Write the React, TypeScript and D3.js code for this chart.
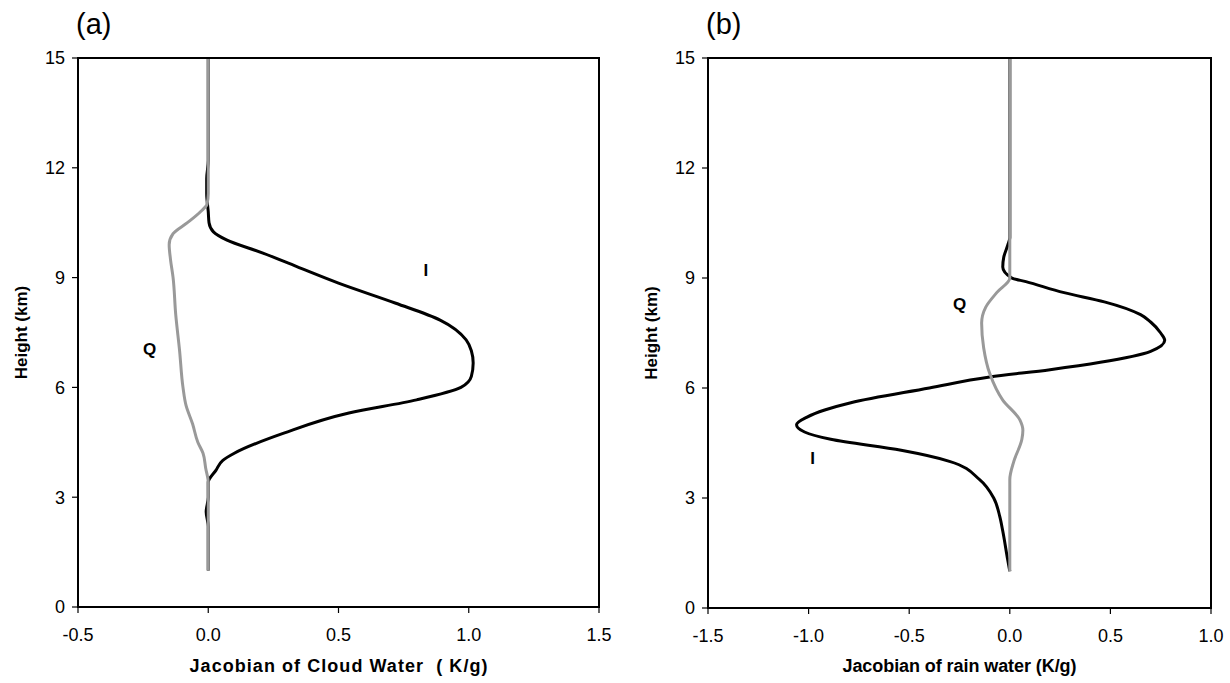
import React from 'react';
import * as d3 from 'd3';

// panel (a) - cloud water jacobians
const cloudIHeight = [1, 2.2, 2.6, 3.0, 3.4, 3.74, 4.0, 4.2, 4.75, 5.3, 5.66, 6.0, 6.3, 6.67, 7.0, 7.3, 7.84, 8.3, 8.85, 9.3, 9.67, 10.03, 10.25, 10.5, 10.8, 11.3, 11.7, 12.2, 15];
const cloudIValue = [0, 0, -0.008, 0, 0, 0.03, 0.055, 0.1, 0.29, 0.54, 0.8, 0.97, 1.01, 1.017, 1.01, 0.99, 0.89, 0.72, 0.5, 0.34, 0.21, 0.07, 0.02, 0.003, 0, -0.006, -0.006, 0, 0];
const cloudQHeight = [1, 3.4, 3.8, 4.2, 4.5, 5.0, 5.5, 6.0, 7.0, 8.0, 9.0, 9.5, 9.9, 10.2, 10.5, 10.8, 11.0, 11.3, 15];
const cloudQValue = [0, 0, -0.01, -0.02, -0.04, -0.06, -0.085, -0.097, -0.11, -0.125, -0.135, -0.145, -0.15, -0.135, -0.08, -0.03, -0.005, 0, 0];

// panel (b) - rain water jacobians
const rainIHeight = [1, 1.3, 2.1, 2.5, 3.0, 3.5, 4.0, 4.3, 4.6, 4.8, 5.0, 5.2, 5.4, 5.6, 6.0, 6.3, 6.5, 6.7, 7.0, 7.3, 7.5, 7.8, 8.0, 8.35, 8.6, 8.9, 9.0, 9.3, 9.57, 9.9, 10.1, 15];
const rainIValue = [0, -0.01, -0.035, -0.05, -0.08, -0.15, -0.3, -0.54, -0.89, -1.02, -1.06, -1.01, -0.92, -0.79, -0.4, -0.1, 0.2, 0.45, 0.7, 0.77, 0.75, 0.7, 0.65, 0.47, 0.27, 0.08, 0.01, -0.035, -0.03, -0.01, 0, 0];
const rainQHeight = [1, 3.5, 4.0, 4.6, 4.85, 5.13, 5.67, 6.4, 7.1, 7.77, 8.2, 8.6, 9.0, 15];
const rainQValue = [0, 0, 0.02, 0.06, 0.065, 0.05, -0.035, -0.1, -0.13, -0.14, -0.12, -0.065, 0, 0];

const heightTicks = [0, 3, 6, 9, 12, 15];
const cloudTicks = [-0.5, 0, 0.5, 1.0, 1.5];
const rainTicks = [-1.5, -1.0, -0.5, 0, 0.5, 1.0];

const font = '"Liberation Sans", Arial, Helvetica, sans-serif';

type Series = { h: number[]; v: number[]; color: string };
type Label = { text: string; x: number; h: number };

const Panel = ({ left, right, top, bottom, domain, ticks, tag, title, titleWidth, series, labels }: {
  left: number; right: number; top: number; bottom: number;
  domain: [number, number]; ticks: number[]; tag: string; title: string; titleWidth: number;
  series: Series[]; labels: Label[];
}) => {
  const x = d3.scaleLinear().domain(domain).range([left, right]);
  const y = d3.scaleLinear().domain([0, 15]).range([bottom, top]);

  // draw top to bottom so screen y increases for the monotone curve
  const line = (s: Series) => {
    const idx = d3.range(s.h.length).reverse();
    return d3.line<number>()
      .x(i => x(s.v[i]))
      .y(i => y(s.h[i]))
      .curve(d3.curveMonotoneY)(idx) || '';
  };

  return (
    <g fontFamily={font}>
      <text x={left - 2} y={34} fontSize={29}>{tag}</text>
      {series.map((s, i) => (
        <path key={i} d={line(s)} fill="none" stroke={s.color} strokeWidth={3} strokeLinejoin="round" />
      ))}
      <rect x={left} y={top} width={right - left} height={bottom - top} fill="none" stroke="#000" strokeWidth={2} />
      {heightTicks.map(t => (
        <g key={t}>
          <line x1={left - 6} x2={left} y1={y(t)} y2={y(t)} stroke="#000" strokeWidth={1.2} />
          <text x={left - 13} y={y(t)} dy="0.35em" textAnchor="end" fontSize={18}>{t}</text>
        </g>
      ))}
      {ticks.map(t => (
        <g key={t}>
          <line x1={x(t)} x2={x(t)} y1={bottom} y2={bottom + 6} stroke="#000" strokeWidth={1.2} />
          <text x={x(t)} y={bottom + 34} textAnchor="middle" fontSize={18}>{t.toFixed(1)}</text>
        </g>
      ))}
      <text x={(left + right) / 2} y={672} textAnchor="middle" fontSize={18} fontWeight="bold"
        textLength={titleWidth} lengthAdjust="spacing" style={{ whiteSpace: 'pre' }}>{title}</text>
      <text transform={`translate(${left - 57},${(top + bottom) / 2}) rotate(-90)`} dy="0.35em" textAnchor="middle" fontSize={17} fontWeight="bold">Height (km)</text>
      {labels.map(l => (
        <text key={l.text} x={x(l.x)} y={y(l.h)} dy="0.35em" textAnchor="middle" fontSize={17} fontWeight="bold">{l.text}</text>
      ))}
    </g>
  );
};

export default function App() {
  return (
    <svg width={1230} height={683} style={{ position: 'absolute', left: 0, top: 0, background: '#fff' }}>
      <Panel
        left={78} right={599} top={58} bottom={607}
        domain={[-0.5, 1.5]} ticks={cloudTicks} tag="(a)"
        title="Jacobian of Cloud Water  ( K/g)" titleWidth={298}
        series={[
          { h: cloudIHeight, v: cloudIValue, color: '#000' },
          { h: cloudQHeight, v: cloudQValue, color: '#999' },
        ]}
        labels={[{ text: 'Q', x: -0.225, h: 7.05 }, { text: 'I', x: 0.835, h: 9.2 }]}
      />
      <Panel
        left={708} right={1211} top={58} bottom={608}
        domain={[-1.5, 1.0]} ticks={rainTicks} tag="(b)"
        title="Jacobian of rain water (K/g)" titleWidth={234}
        series={[
          { h: rainIHeight, v: rainIValue, color: '#000' },
          { h: rainQHeight, v: rainQValue, color: '#999' },
        ]}
        labels={[{ text: 'Q', x: -0.25, h: 8.3 }, { text: 'I', x: -0.98, h: 4.1 }]}
      />
    </svg>
  );
}
